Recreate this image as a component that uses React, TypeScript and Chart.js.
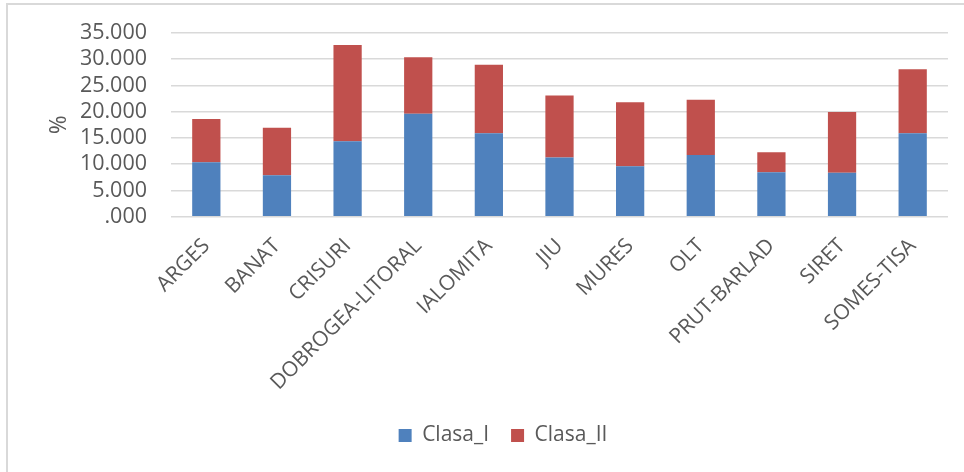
import React, { useEffect, useRef } from "react";
import { Chart, registerables } from "chart.js";

Chart.register(...registerables);

const categories = ["ARGES", "BANAT", "CRISURI", "DOBROGEA-LITORAL", "IALOMITA", "JIU", "MURES", "OLT", "PRUT-BARLAD", "SIRET", "SOMES-TISA"];
const clasaI = [10.36, 7.88, 14.36, 19.6, 15.9, 11.3, 9.6, 11.75, 8.45, 8.38, 15.88];
const clasaII = [8.24, 9.07, 18.34, 10.8, 13.05, 11.8, 12.2, 10.55, 3.81, 11.56, 12.19];
const yTickLabels = [".000", "5.000", "10.000", "15.000", "20.000", "25.000", "30.000", "35.000"];

const FONT = "'Open Sans', 'Liberation Sans', sans-serif";
const TEXT = "#595959";

const shiftLegend = {
  id: "shiftLegend",
  afterLayout(chart: any) {
    const l = chart.legend;
    if (l) { l.left += 9; l.right += 9; }
  },
};

export default function App() {
  const ref = useRef<HTMLCanvasElement>(null);
  useEffect(() => {
    if (!ref.current) return;
    const chart = new Chart(ref.current, {
      type: "bar",
      data: {
        labels: categories,
        datasets: [
          { label: "Clasa_I", data: clasaI, backgroundColor: "#4F81BD", categoryPercentage: 1, barPercentage: 0.4 },
          { label: "Clasa_II", data: clasaII, backgroundColor: "#C0504D", categoryPercentage: 1, barPercentage: 0.4 },
        ],
      },
      plugins: [shiftLegend],
      options: {
        animation: false,
        responsive: false,
        devicePixelRatio: 1,
        layout: { padding: { left: 40, right: 16, top: 33, bottom: 16 } },
        plugins: {
          tooltip: { enabled: false },
          legend: {
            position: "bottom",
            labels: {
              boxWidth: 13,
              boxHeight: 13,
              padding: 22,
              color: TEXT,
              font: { family: FONT, size: 21 },
            },
          },
        },
        scales: {
          x: {
            stacked: true,
            grid: { display: false, drawTicks: false },
            border: { display: false },
            ticks: {
              autoSkip: false,
              minRotation: 45,
              maxRotation: 45,
              padding: 17,
              color: TEXT,
              font: { family: FONT, size: 21 },
            },
            afterFit: (s: any) => { s.height = 186.3; },
          },
          y: {
            stacked: true,
            min: 0,
            max: 35,
            grid: { color: "#d9d9d9", lineWidth: 1.5, drawTicks: false },
            border: { display: false },
            ticks: {
              autoSkip: false,
              stepSize: 5,
              padding: 24,
              color: TEXT,
              font: { family: FONT, size: 21.5 },
              callback: (v: any) => yTickLabels[Math.round(Number(v) / 5)],
            },
            title: {
              display: true,
              text: "%",
              color: TEXT,
              font: { family: FONT, size: 23 },
              padding: { top: 6, bottom: 0 },
            },
            afterFit: (s: any) => {
              s.width = 131;
              s.paddingTop = 0;
              s.paddingBottom = 0;
            },
          },
        },
      },
    });
    return () => chart.destroy();
  }, []);
  return (
    <div style={{ position: "fixed", left: 0, top: 0, width: 964, height: 472, background: "#fff" }}>
      <div style={{ position: "absolute", left: 6, top: 3, right: 0, bottom: 0, borderTop: "2px solid #d9d9d9", borderLeft: "2px solid #d9d9d9" }} />
      <canvas ref={ref} width={964} height={472} style={{ position: "absolute", left: 0, top: 0 }} />
    </div>
  );
}
